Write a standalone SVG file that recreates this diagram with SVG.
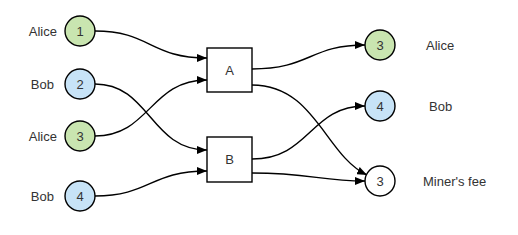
<svg xmlns="http://www.w3.org/2000/svg" width="518" height="235" viewBox="0 0 518 235">
<style>
text{font-family:"Liberation Sans",Arial,sans-serif;font-size:13px;fill:#333;dominant-baseline:central}
.n{text-anchor:middle}
.c{stroke:#000;stroke-width:1.4}
.g{fill:#c9e5b0}
.b{fill:#c7e3f7}
.w{fill:#fff}
.e{fill:none;stroke:#000;stroke-width:1.4;marker-end:url(#ah)}
</style>
<defs>
<marker id="ah" viewBox="0 0 10 8" refX="10" refY="4" markerWidth="10" markerHeight="8" markerUnits="userSpaceOnUse" orient="auto">
<path d="M0,0L10,4L0,8z" fill="#000"/>
</marker>
</defs>
<rect width="518" height="235" fill="#fff"/>
<g id="connectors">
<path class="e" d="M95,31C150,31 150,58 207,58"/>
<path class="e" d="M95,84C150,84 150,150 207,150"/>
<path class="e" d="M95,136C150,136 150,80 207,80"/>
<path class="e" d="M95,196C150,196 150,171 207,171"/>
<path class="e" d="M252,69C310,69 310,45 365,45"/>
<path class="e" d="M252,85C315,85 325,155 367,175"/>
<path class="e" d="M252,159C310,159 310,106 365,106"/>
<path class="e" d="M252,173C310,173 320,181 365,181"/>
</g>
<g id="in1"><circle class="c g" cx="80" cy="31" r="15"/><text class="n" x="80" y="31">1</text><text x="57" y="31" text-anchor="end">Alice</text></g>
<g id="in2"><circle class="c b" cx="80" cy="84" r="15"/><text class="n" x="80" y="84">2</text><text x="54" y="84" text-anchor="end">Bob</text></g>
<g id="in3"><circle class="c g" cx="80" cy="136" r="15"/><text class="n" x="80" y="136">3</text><text x="57" y="136" text-anchor="end">Alice</text></g>
<g id="in4"><circle class="c b" cx="80" cy="196" r="15"/><text class="n" x="80" y="196">4</text><text x="54" y="196" text-anchor="end">Bob</text></g>
<g id="A"><rect class="c w" x="207" y="48" width="45" height="44"/><text class="n" x="229.5" y="70">A</text></g>
<g id="B"><rect class="c w" x="207" y="137" width="45" height="45"/><text class="n" x="229.5" y="159.5">B</text></g>
<g id="out1"><circle class="c g" cx="380" cy="45" r="15"/><text class="n" x="380" y="45">3</text><text x="426" y="45">Alice</text></g>
<g id="out2"><circle class="c b" cx="380" cy="106" r="15"/><text class="n" x="380" y="106">4</text><text x="429" y="106">Bob</text></g>
<g id="out3"><circle class="c w" cx="380" cy="181" r="15"/><text class="n" x="380" y="181">3</text><text x="423" y="181">Miner's fee</text></g>
</svg>
